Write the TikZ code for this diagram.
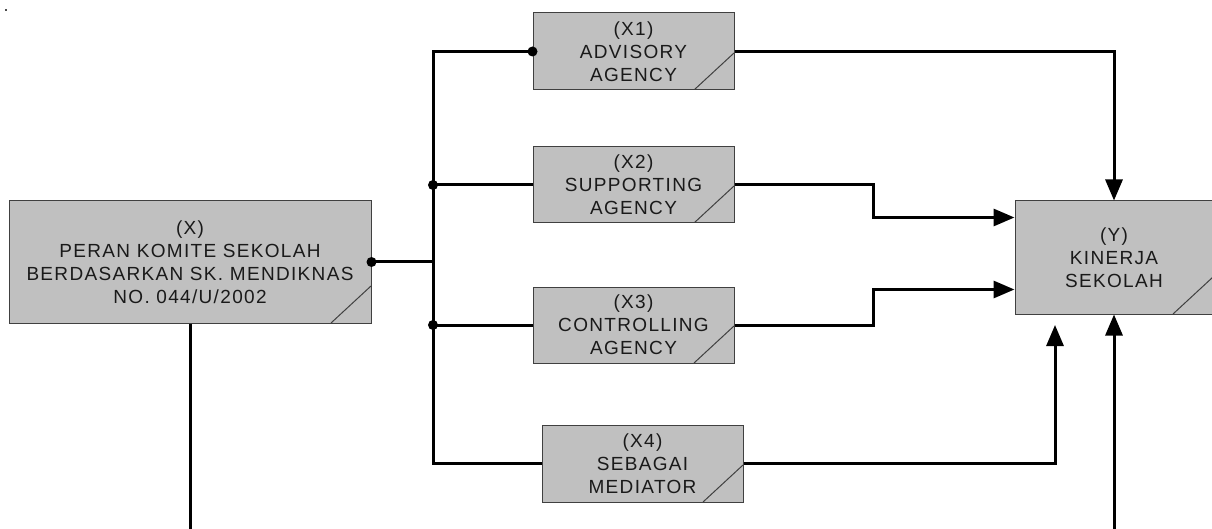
\documentclass[tikz,border=0pt]{standalone}
\usepackage{fontspec}
\setmainfont{Liberation Sans}[LetterSpace=7]
\usetikzlibrary{arrows.meta,calc}
\definecolor{boxgray}{HTML}{C0C0C0}
\definecolor{boxline}{HTML}{404040}
\definecolor{txt}{HTML}{1A1A1A}
\tikzset{
  blk/.style={draw=boxline, line width=1pt, fill=boxgray, inner sep=0pt, align=center,
    text=txt, font=\fontsize{19pt}{23pt}\selectfont,
    path picture={\draw[boxline, line width=1pt]
      ([xshift=-40pt]path picture bounding box.south east) --
      ([yshift=37pt]path picture bounding box.south east);}},
  conn/.style={line width=3pt, black},
  arr/.style={conn, -{Triangle[length=21pt,width=17pt]}},
  dot/.style={circle, fill=black, inner sep=0pt, minimum size=10pt}
}
\begin{document}
\begin{tikzpicture}[x=1pt,y=-1pt]
\useasboundingbox (0,0) rectangle (1212,529);
\fill[black!70] (5,9) rectangle (7,11);
% boxes
\node[blk, minimum width=362pt, minimum height=122pt] (x) at (190,262) {(X)\\PERAN KOMITE SEKOLAH\\BERDASARKAN SK. MENDIKNAS\\NO. 044/U/2002};
\node[blk, minimum width=201pt, minimum height=77pt] (x1) at (633.5,51.5) {(X1)\\ADVISORY\\AGENCY};
\node[blk, minimum width=201pt, minimum height=76pt] (x2) at (633.5,185) {(X2)\\SUPPORTING\\AGENCY};
\node[blk, minimum width=201pt, minimum height=76pt] (x3) at (633.5,325) {(X3)\\CONTROLLING\\AGENCY};
\node[blk, minimum width=201pt, minimum height=77pt] (x4) at (642.5,463.5) {(X4)\\SEBAGAI\\MEDIATOR};
\node[blk, minimum width=198pt, minimum height=113pt] (y) at (1114,257.5) {(Y)\\KINERJA\\SEKOLAH};
% helper coordinates
\coordinate (bus) at (433,0);
\coordinate (mid) at (873,0);
\coordinate (bot) at (0,540);
\coordinate (y2in) at ([yshift=40pt]y.west);
\coordinate (y3in) at ([yshift=-32pt]y.west);
\coordinate (y4in) at (1055,325);
% bus
\draw[conn] (x.east) -- (x.east -| bus);
\draw[conn] (x1.west) -| (bus |- x4.west) -- (x4.west);
\draw[conn] (bus |- x2.west) -- (x2.west);
\draw[conn] (bus |- x3.west) -- (x3.west);
\node[dot] (d0) at (x.east) {};
\node[dot] (d1) at (x1.west) {};
\node[dot] (d2) at (bus |- x2.west) {};
\node[dot] (d3) at (bus |- x3.west) {};
% outputs
\draw[arr] (x1.east) -| (y.north);
\draw[arr] (x2.east) -| (mid |- y2in) -- (y2in);
\draw[arr] (x3.east) -| (mid |- y3in) -- (y3in);
\draw[arr] (x4.east) -| (y4in);
\draw[conn] (x.south) -- (x.south |- bot);
\draw[arr] (y.south |- bot) -- (y.south);
\end{tikzpicture}
\end{document}
